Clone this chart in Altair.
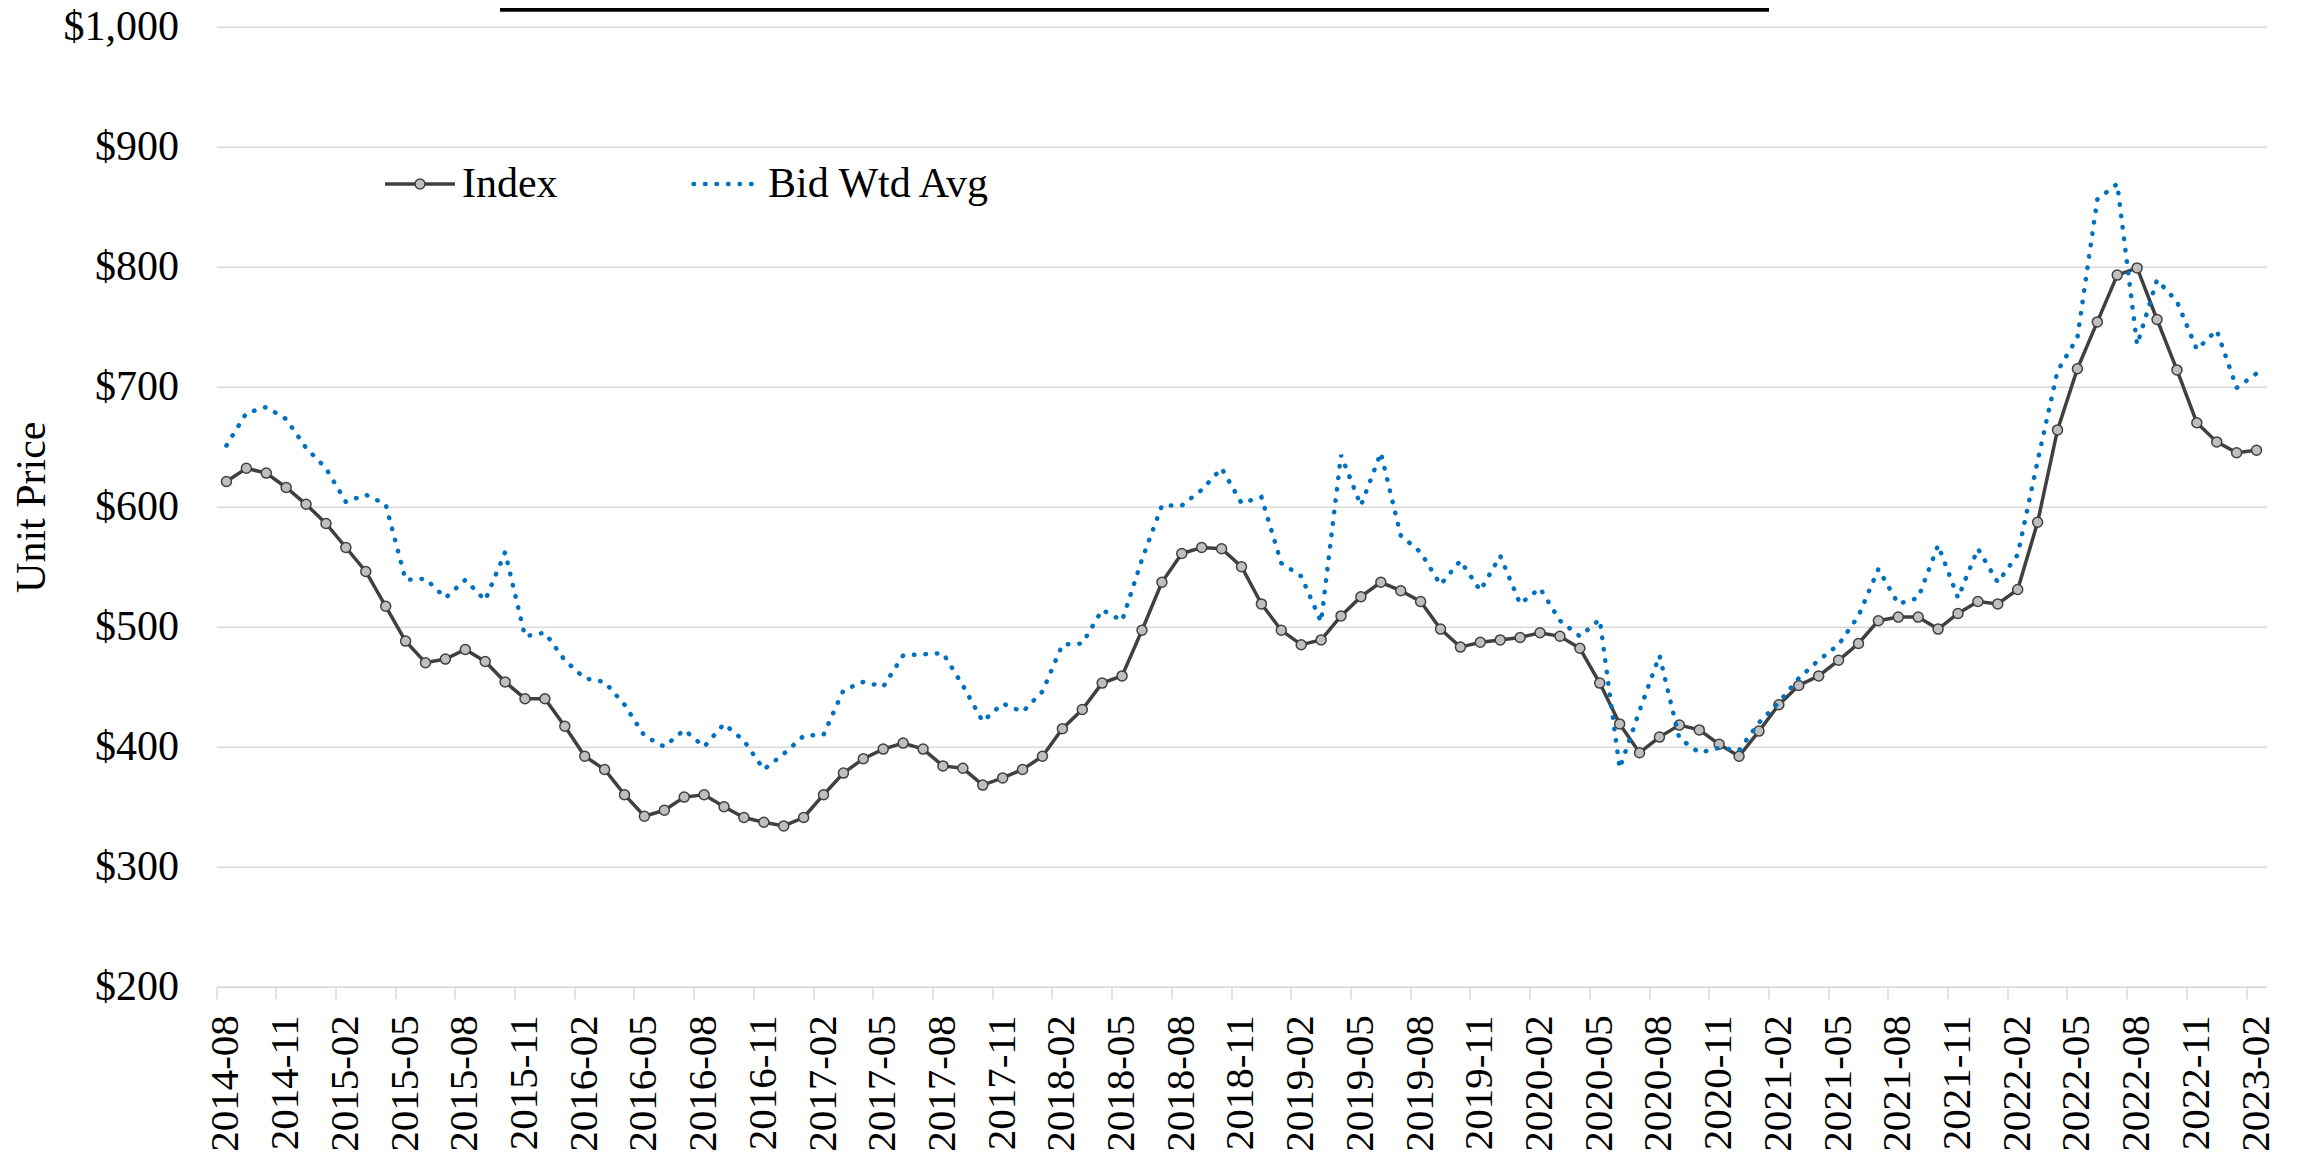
import altair as alt
import pandas as pd

# ---- categories: monthly labels 2014-08 .. 2023-02 ----
all_months = [f"{y}-{m:02d}" for y in range(2014, 2024) for m in range(1, 13)]
months = all_months[all_months.index("2014-08"): all_months.index("2023-02") + 1]
tick_months = months[::3]

# ---- series values ----
index_vals = [
    621, 632, 628, 616, 602, 586, 566, 546, 517, 488, 470, 473, 481, 471, 454, 440, 440,
    417, 392, 381, 360, 342, 347, 358, 360, 350, 341, 337, 334,
    341, 360, 378, 390, 398, 403, 398, 384, 382, 368, 374, 381,
    392, 415, 431, 453, 459, 497, 537, 561, 566, 565, 550, 519,
    497, 485, 489, 509, 525, 537, 530, 521, 498, 483, 487, 489,
    491, 495, 492, 482, 453, 419, 395, 408, 418, 414, 402, 392,
    413, 435, 451, 459, 472, 486, 505, 508, 508, 498, 511, 521,
    519, 531, 587, 664, 715, 754, 793, 799, 756, 714, 670, 654,
    645, 647,
]
bid_vals = [
    651, 678, 683, 673, 649, 632, 604, 610, 602, 539, 540, 524, 539, 522, 562, 492, 495,
    472, 457, 454, 435, 409, 400, 414, 400, 419, 405, 381, 394,
    409, 410, 447, 454, 450, 476, 477, 478, 451, 421, 436, 429,
    446, 485, 486, 514, 505, 556, 601, 601, 614, 632, 603, 608,
    553, 542, 504, 643, 601, 645, 576, 562, 535, 555, 530, 559,
    519, 532, 505, 492, 506, 382, 430, 476, 407, 395, 399, 397,
    420, 437, 457, 472, 485, 509, 548, 519, 524, 568, 524, 565,
    537, 560, 638, 713, 741, 856, 869, 735, 789, 771, 731, 747,
    699, 711,
]
series_names = ["Index", "Bid Wtd Avg"]

df = pd.DataFrame({
    "Month": months * 2,
    "Series": [series_names[0]] * len(months) + [series_names[1]] * len(months),
    "Price": index_vals + bid_vals,
})

FONT = "Liberation Serif"
GRID = "#D9D9D9"
DARK = "#404040"
BLUE = "#0070C0"

x_enc = alt.X(
    "Month:O",
    sort=months,
    bandPosition=0.5,
    scale=alt.Scale(type="band", domain=months, paddingInner=0, paddingOuter=0),
    axis=alt.Axis(
        values=tick_months, bandPosition=0, title=None,
        labelAngle=270, labelAlign="right", labelBaseline="middle",
        labelFont=FONT, labelFontSize=41, labelColor="black", labelPadding=16,
        labelOverlap=False, tickSize=12, tickColor=GRID, tickWidth=1.5,
        domainColor=GRID, domainWidth=1.5, grid=False,
    ),
)
y_enc = alt.Y(
    "Price:Q",
    scale=alt.Scale(domain=[200, 1000], nice=False),
    axis=alt.Axis(
        values=list(range(200, 1001, 100)), format="$,.0f",
        title="Unit Price", titleFont=FONT, titleFontSize=42, titleFontWeight="normal",
        titleColor="black", titlePadding=9.5,
        labelFont=FONT, labelFontSize=42, labelColor="black", labelPadding=38,
        ticks=False, tickSize=0, domain=False,
        grid=True, gridColor=GRID, gridWidth=1.5,
    ),
)

base = alt.Chart(df)

index_line = base.transform_filter(alt.datum.Series == "Index").mark_line(
    color=DARK, strokeWidth=3.5,
    point=alt.OverlayMarkDef(filled=True, fill="#BFBFBF", stroke=DARK, strokeWidth=1.5, size=100, opacity=1),
).encode(x=x_enc, y=y_enc)

bid_line = base.transform_filter(alt.datum.Series == "Bid Wtd Avg").mark_line(
    color=BLUE, strokeWidth=4.5, strokeDash=[0.5, 11], strokeCap="round",
).encode(x=x_enc, y=y_enc)

# ---- manual legend (decoration) ----
leg = alt.Chart(pd.DataFrame({"k": [0]}))
leg_y = 157.3
leg_index_line = leg.mark_rule(color=DARK, strokeWidth=3.5).encode(
    x=alt.value(168.5), x2=alt.value(238.5), y=alt.value(leg_y))
leg_index_pt = leg.mark_point(filled=True, fill="#BFBFBF", stroke=DARK, strokeWidth=1.5, size=100, opacity=1).encode(
    x=alt.value(203.5), y=alt.value(leg_y))
leg_index_txt = leg.mark_text(align="left", baseline="middle", font=FONT, fontSize=42, color="black").encode(
    x=alt.value(245.5), y=alt.value(leg_y), text=alt.value(series_names[0]))
leg_bid_line = leg.mark_rule(color=BLUE, strokeWidth=4.5, strokeDash=[0.5, 11], strokeCap="round").encode(
    x=alt.value(477), x2=alt.value(542), y=alt.value(leg_y))
leg_bid_txt = leg.mark_text(align="left", baseline="middle", font=FONT, fontSize=42, color="black").encode(
    x=alt.value(551.5), y=alt.value(leg_y), text=alt.value(series_names[1]))

# cut-off title underline (decoration)
title_rule = leg.mark_rule(color="black", strokeWidth=4).encode(
    x=alt.value(283.5), x2=alt.value(1552.5), y=alt.value(-17))

chart = alt.layer(
    index_line, bid_line,
    leg_index_line, leg_index_pt, leg_index_txt, leg_bid_line, leg_bid_txt,
    title_rule,
).properties(
    width=2050, height=960,
    autosize=alt.AutoSizeParams(type="none"),
    padding={"left": 208.5, "top": 18.7, "right": 15, "bottom": 166},
    background="white",
).configure_view(stroke=None)

chart.save("out.html", embed_options={"renderer": "svg", "actions": False})
